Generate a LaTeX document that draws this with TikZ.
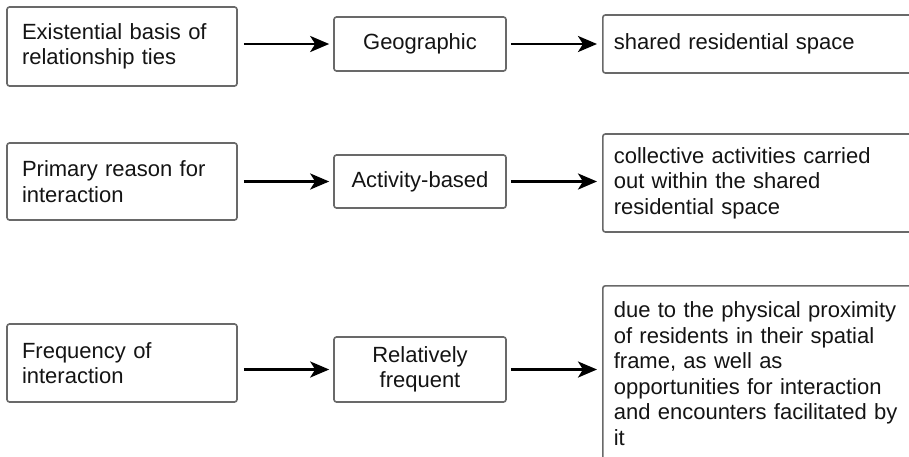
\documentclass[tikz,border=0pt]{standalone}
\usepackage{fontspec}
\setmainfont{Liberation Sans}
\usetikzlibrary{arrows.meta}
\definecolor{boxgray}{RGB}{105,105,105}
\definecolor{textgray}{RGB}{20,20,20}
\begin{document}
\begin{tikzpicture}[x=1pt,y=-1pt,
  box/.style={draw=boxgray, line width=1.6pt, rounded corners=2.5pt, fill=white,
    font=\fontsize{22}{25.5}\selectfont, text=textgray, inner ysep=4pt},
  lbox/.style={box, minimum width=230pt, text width=200pt, inner xsep=15pt, align=left},
  mbox/.style={box, minimum width=172pt, text width=160pt, inner xsep=6pt, align=center},
  rbox/.style={box, text width=300pt, inner xsep=11pt, align=left, anchor=west},
  arr/.style={-{Stealth[length=19pt,width=16pt,inset=5pt]}, line width=2.8pt, black}]
\useasboundingbox[fill=white] (0,0) rectangle (909,456);

% Row 1
\node[lbox, minimum height=79pt] (L1) at (122,46.5) {Existential basis of\\relationship ties};
\node[mbox, minimum height=54pt] (M1) at (420,44) {Geographic};
\node[rbox, minimum height=58pt] (R1) at (602,44) {shared residential space};

% Row 2
\node[lbox, minimum height=77pt] (L2) at (122,181.5) {Primary reason for\\interaction};
\node[mbox, minimum height=53pt] (M2) at (420,181.5) {Activity-based};
\node[rbox, minimum height=98pt] (R2) at (602,183) {collective activities carried\\out within the shared\\residential space};

% Row 3
\node[lbox, minimum height=78pt] (L3) at (122,363) {Frequency of\\interaction};
\node[mbox, minimum height=65pt] (M3) at (420,369.5) {Relatively\\frequent};
\node[rbox, anchor=north west, inner ysep=16pt] (R3) at (602,285) {due to the physical proximity\\of residents in their spatial\\frame, as well as\\opportunities for interaction\\and encounters facilitated by\\it};

% Arrows
\draw[arr] ([xshift=6pt]L1.east |- M1.west) -- ([xshift=-4pt]M1.west);
\draw[arr] ([xshift=4pt]M1.east) -- ([xshift=-5pt]R1.west |- M1.east);
\draw[arr] ([xshift=6pt]L2.east |- M2.west) -- ([xshift=-4pt]M2.west);
\draw[arr] ([xshift=4pt]M2.east) -- ([xshift=-5pt]R2.west |- M2.east);
\draw[arr] ([xshift=6pt]L3.east |- M3.west) -- ([xshift=-4pt]M3.west);
\draw[arr] ([xshift=4pt]M3.east) -- ([xshift=-5pt]R3.west |- M3.east);
\end{tikzpicture}
\end{document}
